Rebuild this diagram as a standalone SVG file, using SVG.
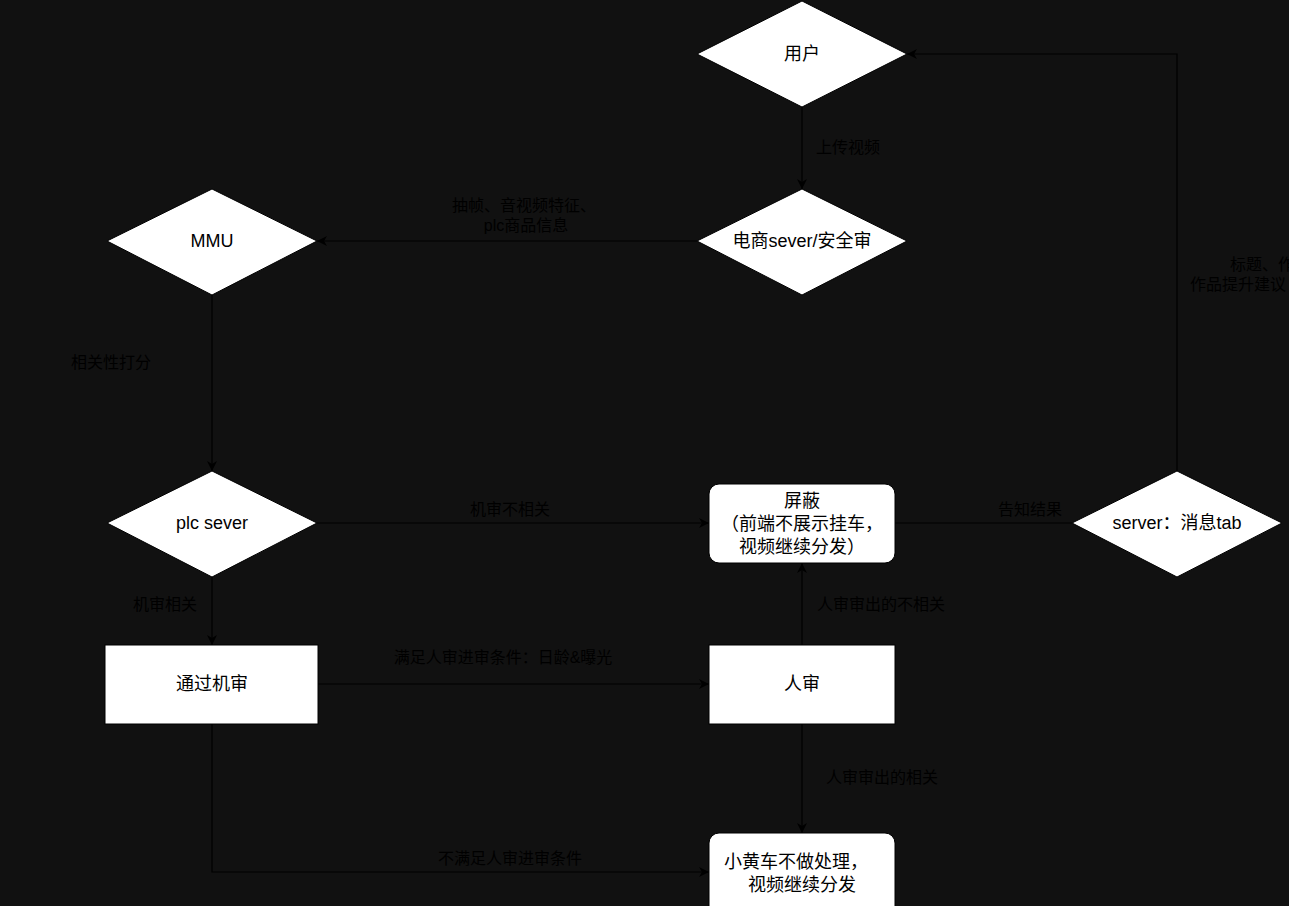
<svg xmlns="http://www.w3.org/2000/svg" width="1289" height="906" viewBox="0 0 1289 906">
<style>
.node{fill:#ffffff;stroke:#000000;stroke-width:1}
.nt{font-family:"Liberation Sans","Noto Sans CJK SC",sans-serif;font-size:18px;fill:#000000;text-anchor:middle}
.lbl{font-family:"Liberation Sans","Noto Sans CJK SC",sans-serif;font-size:16px;fill:#000000;text-anchor:middle}
.edge{fill:none;stroke:#000000;stroke-width:1.2}
</style>
<defs>
<marker id="arr" viewBox="0 0 10 10" refX="10" refY="5" markerWidth="10" markerHeight="10" markerUnits="userSpaceOnUse" orient="auto">
<path d="M0,0 L10,5 L0,10 L3,5 Z" fill="#000000"/>
</marker>
</defs>
<rect x="0" y="0" width="1289" height="906" fill="#111111"/>
<g id="connectors">
<path class="edge" d="M802,107 L802,189" marker-end="url(#arr)"/>
<path class="edge" d="M697,241 L317,241" marker-end="url(#arr)"/>
<path class="edge" d="M212,295 L212,471" marker-end="url(#arr)"/>
<path class="edge" d="M317,523 L709,523" marker-end="url(#arr)"/>
<path class="edge" d="M212,577 L212,645" marker-end="url(#arr)"/>
<path class="edge" d="M318,684 L709,684" marker-end="url(#arr)"/>
<path class="edge" d="M802,645 L802,563" marker-end="url(#arr)"/>
<path class="edge" d="M802,724 L802,833" marker-end="url(#arr)"/>
<path class="edge" d="M212,724 L212,872 L709,872" marker-end="url(#arr)"/>
<path class="edge" d="M895,523 L1072,523"/>
<path class="edge" d="M1177,471 L1177,54 L907,54" marker-end="url(#arr)"/>
<text class="lbl" x="848" y="153">上传视频</text>
<text class="lbl" x="524" y="211">抽帧、音视频特征、</text>
<text class="lbl" x="526" y="231">plc商品信息</text>
<text class="lbl" x="111" y="368">相关性打分</text>
<text class="lbl" x="510" y="515">机审不相关</text>
<text class="lbl" x="165" y="610">机审相关</text>
<text class="lbl" x="503" y="663">满足人审进审条件：日龄&amp;曝光</text>
<text class="lbl" x="881" y="610">人审审出的不相关</text>
<text class="lbl" x="882" y="783">人审审出的相关</text>
<text class="lbl" x="510" y="864">不满足人审进审条件</text>
<text class="lbl" x="1030" y="515">告知结果</text>
<text class="lbl" x="1230" y="270" style="text-anchor:start">标题、作</text>
<text class="lbl" x="1190" y="290" style="text-anchor:start">作品提升建议</text>
</g>
<g id="user">
<polygon class="node" points="802,1 907,54 802,107 697,54"/>
<text class="nt" x="802" y="60">用户</text>
</g>
<g id="ecom">
<polygon class="node" points="802,189 907,241 802,295 697,241"/>
<text class="nt" x="802" y="247">电商sever/安全审</text>
</g>
<g id="mmu">
<polygon class="node" points="212,189 317,241 212,295 107,241"/>
<text class="nt" x="212" y="247">MMU</text>
</g>
<g id="plc">
<polygon class="node" points="212,471 317,523 212,577 107,523"/>
<text class="nt" x="212" y="529">plc sever</text>
</g>
<g id="server">
<polygon class="node" points="1177,471 1282,523 1177,577 1072,523"/>
<text class="nt" x="1177" y="529">server：消息tab</text>
</g>
<g id="block">
<rect class="node" x="709" y="484" width="186" height="79" rx="10"/>
<text class="nt" x="802" y="507">屏蔽</text>
<text class="nt" x="802" y="530">（前端不展示挂车，</text>
<text class="nt" x="802" y="553">视频继续分发）</text>
</g>
<g id="pass">
<rect class="node" x="105" y="645" width="213" height="79"/>
<text class="nt" x="212" y="690">通过机审</text>
</g>
<g id="human">
<rect class="node" x="709" y="645" width="186" height="79"/>
<text class="nt" x="802" y="690">人审</text>
</g>
<g id="cart">
<rect class="node" x="709" y="833" width="186" height="85" rx="10"/>
<text class="nt" x="796" y="868">小黄车不做处理，</text>
<text class="nt" x="802" y="891">视频继续分发</text>
</g>
</svg>
